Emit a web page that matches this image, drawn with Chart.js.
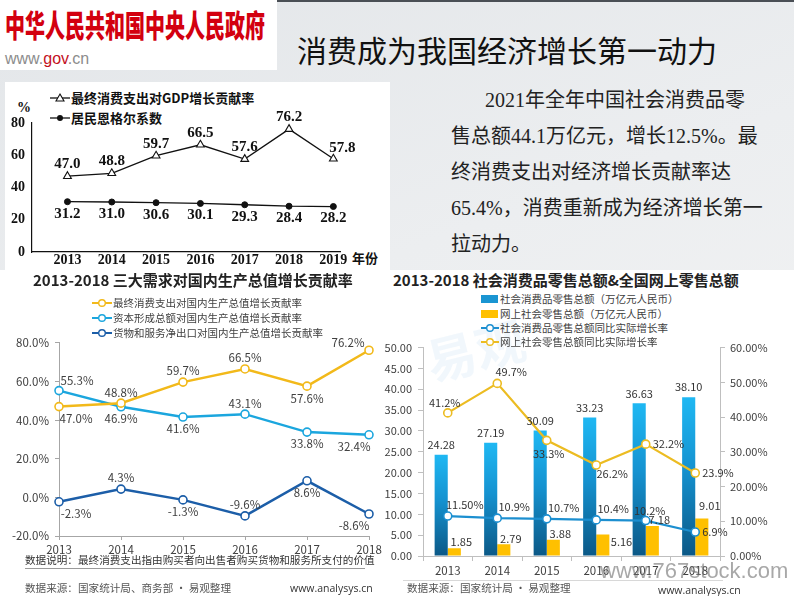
<!DOCTYPE html>
<html lang="zh-CN"><head><meta charset="utf-8">
<script src="https://cdn.jsdelivr.net/npm/chart.js@4.4.1/dist/chart.umd.min.js"></script>
<style>
*{box-sizing:border-box}
html,body{margin:0;padding:0}
body{width:794px;height:596px;position:relative;overflow:hidden;background:linear-gradient(160deg,#e3e6e9 0%,#eceef0 45%,#f4f4f4 100%);font-family:"Noto Sans CJK SC","Noto Sans",sans-serif;color:#222}
.a{position:absolute;white-space:nowrap}
canvas{position:absolute}
.lg{position:absolute;display:flex;align-items:center;white-space:nowrap;height:14px;line-height:14px}
.lg svg{flex:none;margin-right:1px}
</style></head><body>
<div class="a" style="left:0;top:0;width:794px;height:2px;background:#4a4f55"></div>
<div class="a" style="left:0;top:0;width:277px;height:70px;background:#fff"></div>
<div class="a" style="left:5px;top:5px;font-size:31px;line-height:38px;font-weight:900;color:#d3000f;transform:scaleX(0.645);transform-origin:0 0;">中华人民共和国中央人民政府</div>
<div class="a" style="left:5px;top:50px;font-family:'Liberation Sans Narrow','Liberation Sans',sans-serif;font-size:16px;line-height:18px;color:#8c8c8c">www.<span style="color:#c3101d">gov</span>.cn</div>
<div class="a" style="left:297px;top:32px;font-size:30px;line-height:34px;color:#111">消费成为我国经济增长第一动力</div>
<div class="a" style="left:451px;top:82px;font-family:'Liberation Serif','Noto Sans CJK SC',serif;font-size:20px;line-height:36px;color:#222">
<div style="padding-left:34px">2021年全年中国社会消费品零</div>
<div>售总额44.1万亿元，增长12.5%。最</div>
<div>终消费支出对经济增长贡献率达</div>
<div>65.4%，消费重新成为经济增长第一</div>
<div>拉动力。</div>
</div>

<!-- top-left chart panel -->
<div class="a" style="left:5px;top:82px;width:385px;height:188px;background:#fff"></div>
<div class="lg" style="left:50px;top:91px;font-size:13px;font-weight:700;color:#111">
<svg width="20" height="12"><line x1="0" y1="6" x2="20" y2="6" stroke="#111" stroke-width="1.3"/><polygon points="10,2 14,9 6,9" fill="#fff" stroke="#111" stroke-width="1.1"/></svg>最终消费支出对GDP增长贡献率</div>
<div class="lg" style="left:50px;top:111px;font-size:13px;font-weight:700;color:#111">
<svg width="20" height="12"><line x1="0" y1="6" x2="20" y2="6" stroke="#111" stroke-width="1.3"/><circle cx="10" cy="6" r="3" fill="#111"/></svg>居民恩格尔系数</div>
<div class="a" style="left:17px;top:100px;font-family:'Liberation Serif',serif;font-weight:700;font-size:14px;line-height:16px;color:#111">%</div>
<div class="a" style="left:352px;top:250px;font-weight:700;font-size:13px;line-height:16px;color:#111">年份</div>
<canvas id="c1" width="390" height="188" style="left:0;top:82px"></canvas>

<!-- bottom panels -->
<div class="a" style="left:0;top:270px;width:794px;height:326px;background:#fff"></div>
<div class="a" style="left:425px;top:318px;font-size:50px;font-weight:700;line-height:60px;color:rgba(150,190,228,0.13);transform:rotate(-14deg)">易观</div>

<div class="a" style="left:33px;top:270px;font-size:15px;font-weight:700;line-height:20px;color:#222">2013-2018 三大需求对国内生产总值增长贡献率</div>
<div class="lg" style="left:92px;top:296px;font-size:10.5px;color:#404040"><svg width="20" height="10"><line x1="0" y1="5" x2="20" y2="5" stroke="#f2b91a" stroke-width="2"/><circle cx="10" cy="5" r="3.3" fill="#fff" stroke="#f2b91a" stroke-width="1.4"/></svg>最终消费支出对国内生产总值增长贡献率</div>
<div class="lg" style="left:92px;top:311px;font-size:10.5px;color:#404040"><svg width="20" height="10"><line x1="0" y1="5" x2="20" y2="5" stroke="#1ba6de" stroke-width="2"/><circle cx="10" cy="5" r="3.3" fill="#fff" stroke="#1ba6de" stroke-width="1.4"/></svg>资本形成总额对国内生产总值增长贡献率</div>
<div class="lg" style="left:92px;top:326px;font-size:10.5px;color:#404040"><svg width="20" height="10"><line x1="0" y1="5" x2="20" y2="5" stroke="#1c5ea8" stroke-width="2"/><circle cx="10" cy="5" r="3.3" fill="#fff" stroke="#1c5ea8" stroke-width="1.4"/></svg>货物和服务净出口对国内生产总值增长贡献率</div>
<canvas id="c2" width="390" height="235" style="left:0;top:330px"></canvas>
<div class="a" style="left:25px;top:553px;font-size:10.6px;line-height:14px;color:#333">数据说明：最终消费支出指由购买者向出售者购买货物和服务所支付的价值</div>
<div class="a" style="left:25px;top:568px;width:340px;height:1px;background:#9a9a9a"></div>
<div class="a" style="left:25px;top:581px;font-size:10.6px;line-height:14px;color:#555">数据来源：国家统计局、商务部 · 易观整理</div>
<div class="a" style="left:290px;top:581px;font-size:10.5px;line-height:14px;color:#333;font-family:'Open Sans',sans-serif">www.analysys.cn</div>

<div class="a" style="left:393px;top:270px;font-size:15px;font-weight:700;line-height:20px;color:#222">2013-2018 社会消费品零售总额&amp;全国网上零售总额</div>
<div class="lg" style="left:481px;top:292px;font-size:10.5px;color:#404040"><svg width="18" height="10"><rect x="0" y="1" width="17" height="8" fill="#1a95d2"/></svg>社会消费品零售总额（万亿元人民币）</div>
<div class="lg" style="left:481px;top:307px;font-size:10.5px;color:#404040"><svg width="18" height="10"><rect x="0" y="1" width="17" height="8" fill="#ffc000"/></svg>网上社会零售总额（万亿元人民币）</div>
<div class="lg" style="left:481px;top:321px;font-size:10.5px;color:#404040"><svg width="18" height="10"><line x1="0" y1="5" x2="18" y2="5" stroke="#1c8fd0" stroke-width="2"/><circle cx="9" cy="5" r="3.3" fill="#fff" stroke="#1c8fd0" stroke-width="1.4"/></svg>社会消费品零售总额同比实际增长率</div>
<div class="lg" style="left:481px;top:335px;font-size:10.5px;color:#404040"><svg width="18" height="10"><line x1="0" y1="5" x2="18" y2="5" stroke="#ecbc22" stroke-width="2"/><circle cx="9" cy="5" r="3.3" fill="#fff" stroke="#ecbc22" stroke-width="1.4"/></svg>网上社会零售总额同比实际增长率</div>
<canvas id="c3" width="414" height="250" style="left:380px;top:335px"></canvas>
<div class="a" style="left:403px;top:580px;width:320px;height:1px;background:#d8d8d8"></div>
<div class="a" style="left:407px;top:581px;font-size:10.6px;line-height:14px;color:#555">数据来源：国家统计局 · 易观整理</div>
<div class="a" style="left:600px;top:558px;font-family:'Liberation Sans',sans-serif;font-size:22px;line-height:26px;color:rgba(110,110,110,0.6)">www.767stock.com</div>
<div class="a" style="left:658px;top:583px;font-size:10.5px;line-height:14px;color:#333;font-family:'Open Sans',sans-serif">www.analysys.cn</div>

<script>
// ---------- data ----------
const years1 = [2013, 2014, 2015, 2016, 2017, 2018, 2019];
const gdpContribution = [47.0, 48.8, 59.7, 66.5, 57.6, 76.2, 57.8];
const engelCoefficient = [31.2, 31.0, 30.6, 30.1, 29.3, 28.4, 28.2];

const years2 = ['2013', '2014', '2015', '2016', '2017', '2018'];
const consumptionContribution = [47.0, 48.8, 59.7, 66.5, 57.6, 76.2];
const capitalContribution = [55.3, 46.9, 41.6, 43.1, 33.8, 32.4];
const netExportContribution = [-2.3, 4.3, -1.3, -9.6, 8.6, -8.6];

const years3 = ['2013', '2014', '2015', '2016', '2017', '2018'];
const retailSales = [24.28, 27.19, 30.09, 33.23, 36.63, 38.10];
const onlineSales = [1.85, 2.79, 3.88, 5.16, 7.18, 9.01];
const retailGrowth = [11.50, 10.9, 10.7, 10.4, 10.2, 6.9];
const retailGrowthDecimals = [2, 1, 1, 1, 1, 1];
const onlineGrowth = [41.2, 49.7, 33.3, 26.2, 32.2, 23.9];

// ---------- label plugin ----------
const valueLabels = {
  id: 'valueLabels',
  afterDatasetsDraw(chart) {
    const ctx = chart.ctx;
    chart.data.datasets.forEach((ds, di) => {
      const lo = ds.labelOpts; if (!lo) return;
      const meta = chart.getDatasetMeta(di);
      ctx.save();
      ctx.font = lo.font; ctx.fillStyle = lo.color; ctx.textBaseline = 'middle';
      meta.data.forEach((el, i) => {
        const p = lo.place[lo.pos[i]];
        ctx.textAlign = p[2] || 'center';
        ctx.fillText(lo.fmt(lo.values[i], i), el.x + p[0], el.y + p[1]);
      });
      ctx.restore();
    });
  }
};

Chart.defaults.font.family = "'Noto Sans CJK SC', sans-serif";
Chart.defaults.color = '#404040';

// ---------- chart 1 ----------
const P1 = { t: [0, -12], b: [0, 12], tr: [9, -11] };
const serifBold = { family: "'Liberation Serif', serif", size: 14, weight: 'bold' };
new Chart(document.getElementById('c1'), {
  type: 'line',
  data: { datasets: [
    { data: years1.map((x, i) => ({ x, y: gdpContribution[i] })), borderColor: '#111', borderWidth: 1.3,
      pointStyle: 'triangle', pointRadius: 4.5, pointBackgroundColor: '#fff', pointBorderColor: '#111', pointBorderWidth: 1.1,
      labelOpts: { values: gdpContribution, pos: ['t','t','t','t','t','t','tr'], place: P1, font: "bold 15px 'Liberation Serif'", color: '#111', fmt: v => v.toFixed(1) } },
    { data: years1.map((x, i) => ({ x, y: engelCoefficient[i] })), borderColor: '#111', borderWidth: 1.3,
      pointStyle: 'circle', pointRadius: 3, pointBackgroundColor: '#111', pointBorderColor: '#111', pointBorderWidth: 1,
      labelOpts: { values: engelCoefficient, pos: ['b','b','b','b','b','b','b'], place: P1, font: "bold 15px 'Liberation Serif'", color: '#111', fmt: v => v.toFixed(1) } }
  ] },
  options: {
    responsive: false, animation: false, devicePixelRatio: 1,
    layout: { padding: { top: 41, right: 50, bottom: 0, left: 0 } },
    plugins: { legend: { display: false }, tooltip: { enabled: false } },
    scales: {
      x: { type: 'linear', min: 2012.2, max: 2019.15,
        afterBuildTicks: s => { s.ticks = years1.map(v => ({ value: v })); },
        afterFit: s => { s.height = 18; },
        grid: { display: false, drawTicks: false }, border: { display: true, color: '#111', width: 1.2 },
        ticks: { callback: v => String(v), font: serifBold, color: '#111', padding: 0, maxRotation: 0, autoSkip: false } },
      y: { min: 0, max: 80,
        afterBuildTicks: s => { s.ticks = [0, 20, 40, 60, 80].map(v => ({ value: v })); },
        afterFit: s => { s.width = 32; },
        grid: { display: false, drawTicks: false }, border: { display: true, color: '#111', width: 1.2 },
        ticks: { font: serifBold, color: '#111', padding: 7 } }
    }
  },
  plugins: [valueLabels]
});

// ---------- chart 2 ----------
const P2 = { t: [0, -11], b: [0, 12], tr: [18, -10], br: [17, 12], tl: [-21, -8], bl: [-15, 12] };
const lab2 = "11.5px 'Noto Sans CJK SC'";
function line2(data, color, pos) {
  return { data, borderColor: color, borderWidth: 2.5, pointRadius: 4, pointBackgroundColor: '#fff',
    pointBorderColor: color, pointBorderWidth: 1.6, tension: 0,
    labelOpts: { values: data, pos, place: P2, font: lab2, color: '#404040', fmt: v => v.toFixed(1) + '%' } };
}
new Chart(document.getElementById('c2'), {
  type: 'line',
  data: { labels: years2, datasets: [
    line2(consumptionContribution, '#f2b91a', ['br','t','t','t','b','tl']),
    line2(capitalContribution, '#1ba6de', ['tr','b','b','t','b','bl']),
    line2(netExportContribution, '#1c5ea8', ['br','t','b','t','b','bl'])
  ] },
  options: {
    responsive: false, animation: false, devicePixelRatio: 1,
    layout: { padding: { top: 12, right: 21, bottom: 0, left: 0 } },
    plugins: { legend: { display: false }, tooltip: { enabled: false } },
    scales: {
      x: { offset: false, afterFit: s => { s.height = 29; },
        grid: { drawOnChartArea: false, tickLength: 4, color: '#a6a6a6' }, border: { color: '#a6a6a6' },
        ticks: { font: { size: 11.5 }, color: '#404040', padding: 3, maxRotation: 0 } },
      y: { min: -20, max: 80, afterFit: s => { s.width = 59; },
        grid: { drawOnChartArea: false, tickLength: 4, color: '#a6a6a6' }, border: { color: '#a6a6a6' },
        ticks: { stepSize: 20, font: { size: 11.5 }, color: '#404040', padding: 6, callback: v => v.toFixed(1) + '%' } }
    }
  },
  plugins: [valueLabels]
});

// ---------- chart 3 ----------
const P3 = { t: [0, -10], tb: [4, -10], tr: [7, -6], tt: [8, -13], rb: [8, 7, 'left'], r: [7, 0, 'left'],
             lt: [-3, -10], ltr: [14, -12], lb: [2, 13], lbr: [16, 9], gtr: [17, -11] };
const lab3 = "11px 'Noto Sans CJK SC'";
function barGradient(c) {
  const ch = c.chart, sc = ch.scales && ch.scales.y;
  if (c.type !== 'data' || !sc) return '#1a95d2';
  const top = sc.getPixelForValue(c.raw), base = sc.getPixelForValue(0);
  if (!isFinite(top) || !isFinite(base) || top === base) return '#1a95d2';
  const g = ch.ctx.createLinearGradient(0, top, 0, base);
  g.addColorStop(0, '#1fb8f3'); g.addColorStop(0.45, '#1592d0'); g.addColorStop(1, '#0b5886');
  return g;
}
new Chart(document.getElementById('c3'), {
  data: { labels: years3, datasets: [
    { type: 'line', yAxisID: 'y1', order: 1, data: onlineGrowth, borderColor: '#ecbc22', borderWidth: 2.2,
      pointRadius: 4, pointBackgroundColor: '#fff', pointBorderColor: '#ecbc22', pointBorderWidth: 1.6,
      labelOpts: { values: onlineGrowth, pos: ['lt','ltr','lb','lbr','r','r'], place: P3, font: lab3, color: '#333', fmt: v => v.toFixed(1) + '%' } },
    { type: 'line', yAxisID: 'y1', order: 1, data: retailGrowth, borderColor: '#1c8fd0', borderWidth: 2.2,
      pointRadius: 4, pointBackgroundColor: '#fff', pointBorderColor: '#1c8fd0', pointBorderWidth: 1.6,
      labelOpts: { values: retailGrowth, pos: ['gtr','gtr','gtr','gtr','tb','r'], place: P3, font: lab3, color: '#333', fmt: (v, i) => v.toFixed(retailGrowthDecimals[i]) + '%' } },
    { type: 'bar', yAxisID: 'y', order: 2, data: retailSales, backgroundColor: barGradient,
      barPercentage: 1, categoryPercentage: 0.53,
      labelOpts: { values: retailSales, pos: ['t','t','t','t','t','t'], place: P3, font: lab3, color: '#333', fmt: v => v.toFixed(2) } },
    { type: 'bar', yAxisID: 'y', order: 2, data: onlineSales, backgroundColor: '#ffc000',
      barPercentage: 1, categoryPercentage: 0.53,
      labelOpts: { values: onlineSales, pos: ['tr','tr','tr','rb','tr','tt'], place: P3, font: lab3, color: '#333', fmt: v => v.toFixed(2) } }
  ] },
  options: {
    responsive: false, animation: false, devicePixelRatio: 1,
    layout: { padding: { top: 12, right: 0, bottom: 0, left: 0 } },
    plugins: { legend: { display: false }, tooltip: { enabled: false } },
    scales: {
      x: { afterFit: s => { s.height = 29; },
        grid: { drawOnChartArea: false, tickLength: 5, color: '#bfbfbf' }, border: { color: '#bfbfbf' },
        ticks: { font: { size: 11.5 }, color: '#404040', padding: 3, maxRotation: 0 } },
      y: { position: 'left', min: 0, max: 50, afterFit: s => { s.width = 43; },
        grid: { drawOnChartArea: false, tickLength: 5, color: '#bfbfbf' }, border: { color: '#bfbfbf' },
        ticks: { stepSize: 5, font: { size: 11 }, color: '#404040', padding: 6, callback: v => v.toFixed(2) } },
      y1: { position: 'right', min: 0, max: 60, afterFit: s => { s.width = 74; },
        grid: { drawOnChartArea: false, tickLength: 5, color: '#bfbfbf' }, border: { color: '#bfbfbf' },
        ticks: { stepSize: 10, font: { size: 11 }, color: '#404040', padding: 5, callback: v => v.toFixed(2) + '%' } }
    }
  },
  plugins: [valueLabels]
});
</script>
</body></html>
